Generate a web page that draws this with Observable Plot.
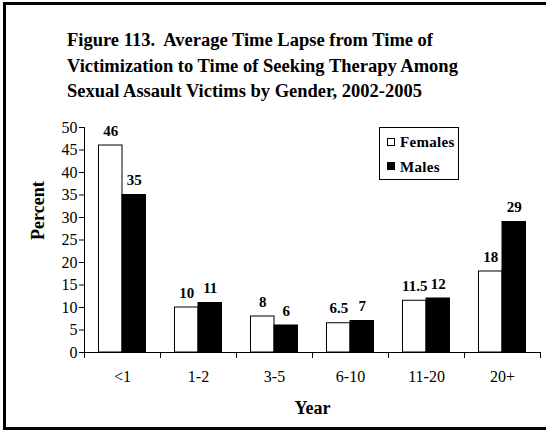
<!DOCTYPE html>
<html>
<head>
<meta charset="utf-8">
<script src="https://cdn.jsdelivr.net/npm/d3@7"></script>
<script src="https://cdn.jsdelivr.net/npm/@observablehq/plot@0.6"></script>
<style>
  body { margin: 0; background: #fff; }
  #wrap { position: relative; width: 546px; height: 430px; overflow: hidden; background: #fff;
          font-family: "Liberation Serif", "Times New Roman", serif; color: #000; }
  #frame { position: absolute; left: 3px; top: 2px; width: 600px; height: 428px;
           border: 3px solid #000; box-sizing: border-box; }
  #title { position: absolute; left: 67px; top: 28px; font-size: 18.5px; font-weight: bold;
           line-height: 25.5px; white-space: pre; }
  #chart { position: absolute; left: 0; top: 0; }
  #legend { position: absolute; left: 379px; top: 127px; width: 80px; height: 53px;
            border: 1px solid #000; box-sizing: border-box; background: #fff;
            font-size: 15px; font-weight: bold; }
  .sw { position: absolute; width: 8px; height: 8px; border: 1px solid #000; box-sizing: border-box; }
  .lt { position: absolute; left: 20px; line-height: 15px; white-space: nowrap; letter-spacing: 0.3px; }
</style>
</head>
<body>
<div id="wrap">
  <div id="chart"></div>
  <div id="frame"></div>
  <div id="title"></div>
  <div id="legend"></div>
</div>
<script>
const titleLines = [
  "Figure 113.  Average Time Lapse from Time of",
  "Victimization to Time of Seeking Therapy Among",
  "Sexual Assault Victims by Gender, 2002-2005"
];
const categories = ["<1", "1-2", "3-5", "6-10", "11-20", "20+"];
const females = [46, 10, 8, 6.5, 11.5, 18];
const males = [35, 11, 6, 7, 12, 29];
const yTicks = [0, 5, 10, 15, 20, 25, 30, 35, 40, 45, 50];
const seriesNames = ["Females", "Males"];
const xLabel = "Year";
const yLabel = "Percent";

document.getElementById("title").textContent = titleLines.join("\n");

const rows = categories.map((c, i) => ({ category: c, female: females[i], male: males[i] }));

const half = 38;          // half of the band step, in px
const outer = 14.5;       // gap between band edge and bar group
const bw = half - outer;  // bar width
const serif = "'Liberation Serif', 'Times New Roman', serif";

const chart = Plot.plot({
  width: 546,
  height: 430,
  marginTop: 127,
  marginBottom: 78,
  marginLeft: 84,
  marginRight: 6,
  style: { fontFamily: serif, fontSize: "15px", color: "#000", background: "transparent" },
  x: { domain: categories, padding: 0, label: null },
  y: { domain: [0, 50], label: null },
  marks: [
    Plot.barY(rows, { x: "category", y: "female", fill: "white", stroke: "black", strokeWidth: 1,
                      insetLeft: outer, insetRight: half }),
    Plot.barY(rows, { x: "category", y: "male", fill: "black", stroke: "black", strokeWidth: 1,
                      insetLeft: half, insetRight: outer }),
    Plot.ruleY([0], { stroke: "black" }),
    Plot.ruleX([categories[0]], { x: d => d, dx: -half, y1: () => 0, y2: () => 50, stroke: "black" }),
    Plot.ruleX(categories, { x: d => d, dx: -half, y1: () => 0, y2: () => 0, insetBottom: -6, stroke: "black" }),
    Plot.ruleX([categories[categories.length - 1]], { x: d => d, dx: half, y1: () => 0, y2: () => 0, insetBottom: -6, stroke: "black" }),
    Plot.axisY({ ticks: yTicks, tickSize: 5, tickPadding: 2, fontSize: 16, stroke: "black" }),
    Plot.axisX({ tickSize: 0, tickPadding: 18, fontSize: 16 }),
    Plot.text(rows, { x: "category", y: "female", text: d => String(d.female), dx: -bw / 2, dy: -10,
                      lineAnchor: "bottom", fontWeight: "bold", fontSize: 15, fill: "black" }),
    Plot.text(rows, { x: "category", y: "male", text: d => String(d.male), dx: bw / 2, dy: -10,
                      lineAnchor: "bottom", fontWeight: "bold", fontSize: 15, fill: "black" }),
    Plot.text([yLabel], { text: d => d, frameAnchor: "left", dx: -46, rotate: -90,
                          fontWeight: "bold", fontSize: 18, fill: "black" }),
    Plot.text([xLabel], { text: d => d, frameAnchor: "bottom", dy: 61, lineAnchor: "bottom",
                          fontWeight: "bold", fontSize: 18, fill: "black" })
  ]
});
document.getElementById("chart").appendChild(chart);

// legend
const legend = document.getElementById("legend");
const swFill = ["#fff", "#000"];
const swTop = [10, 34];
const txtTop = [6.5, 31.5];
seriesNames.forEach((name, i) => {
  const sw = document.createElement("div");
  sw.className = "sw";
  sw.style.left = "7px";
  sw.style.top = swTop[i] + "px";
  sw.style.background = swFill[i];
  legend.appendChild(sw);
  const t = document.createElement("div");
  t.className = "lt";
  t.style.top = txtTop[i] + "px";
  t.textContent = name;
  legend.appendChild(t);
});
</script>
</body>
</html>
